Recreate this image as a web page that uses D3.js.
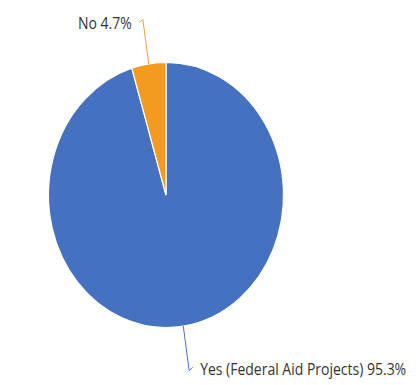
<!DOCTYPE html>
<html>
<head>
<meta charset="utf-8">
<script src="https://cdn.jsdelivr.net/npm/d3@7"></script>
<style>
  html, body { margin: 0; padding: 0; background: #ffffff; }
  svg { display: block; }
</style>
</head>
<body>
<svg id="chart" width="419" height="385"></svg>
<script>
// Share of projects by federal aid status
const categories = ["Yes (Federal Aid Projects)", "No"];
const shares = [95.3, 4.7];
const sliceColors = ["#4571c1", "#f39b20"];
const leaderColors = ["#4a6fc9", "#f0a030"];

const width = 419, height = 385;
const cx = 166, cy = 195;
const radius = 117.5;
const stretchY = 1.128;   // the pie is drawn slightly taller than wide

const svg = d3.select("#chart");
const g = svg.append("g")
  .attr("transform", `translate(${cx},${cy}) scale(1,${stretchY})`);

const pie = d3.pie().sort(null).value(d => d);
const arcs = pie(shares);

const arc = d3.arc().innerRadius(0).outerRadius(radius);
const rim = d3.arc().innerRadius(radius).outerRadius(radius);

g.selectAll("path.slice")
  .data(arcs)
  .join("path")
  .attr("class", "slice")
  .attr("d", arc)
  .attr("fill", (d, i) => sliceColors[i])
  .attr("stroke", "#ffffff")
  .attr("stroke-width", 1.2)
  .attr("vector-effect", "non-scaling-stroke");

// Leader lines and labels
arcs.forEach((d, i) => {
  const mid = (d.startAngle + d.endAngle) / 2;
  const [x0, y0] = rim.centroid(d);
  const reach = radius * 1.34;
  const x1 = Math.sin(mid) * reach;
  const y1 = -Math.cos(mid) * reach;
  const side = x1 < 0 ? -1 : 1;
  const up = y1 < 0 ? -1 : 1;
  const x2 = x1 + side * 3.5;
  const y2 = y1 - up * 3;

  g.append("path")
    .attr("d", d3.line()([[x0, y0], [x1, y1], [x2, y2]]))
    .attr("fill", "none")
    .attr("stroke", leaderColors[i])
    .attr("stroke-width", 1)
    .attr("vector-effect", "non-scaling-stroke");

  g.append("text")
    .attr("x", x1 + side * 11)
    .attr("y", y1 + (up < 0 ? 9 : 3.5))
    .attr("text-anchor", side < 0 ? "end" : "start")
    .attr("font-family", "'Open Sans', sans-serif")
    .attr("font-size", 14)
    .attr("fill", "#333333")
    .text(`${categories[i]} ${shares[i]}%`);
});
</script>
</body>
</html>
